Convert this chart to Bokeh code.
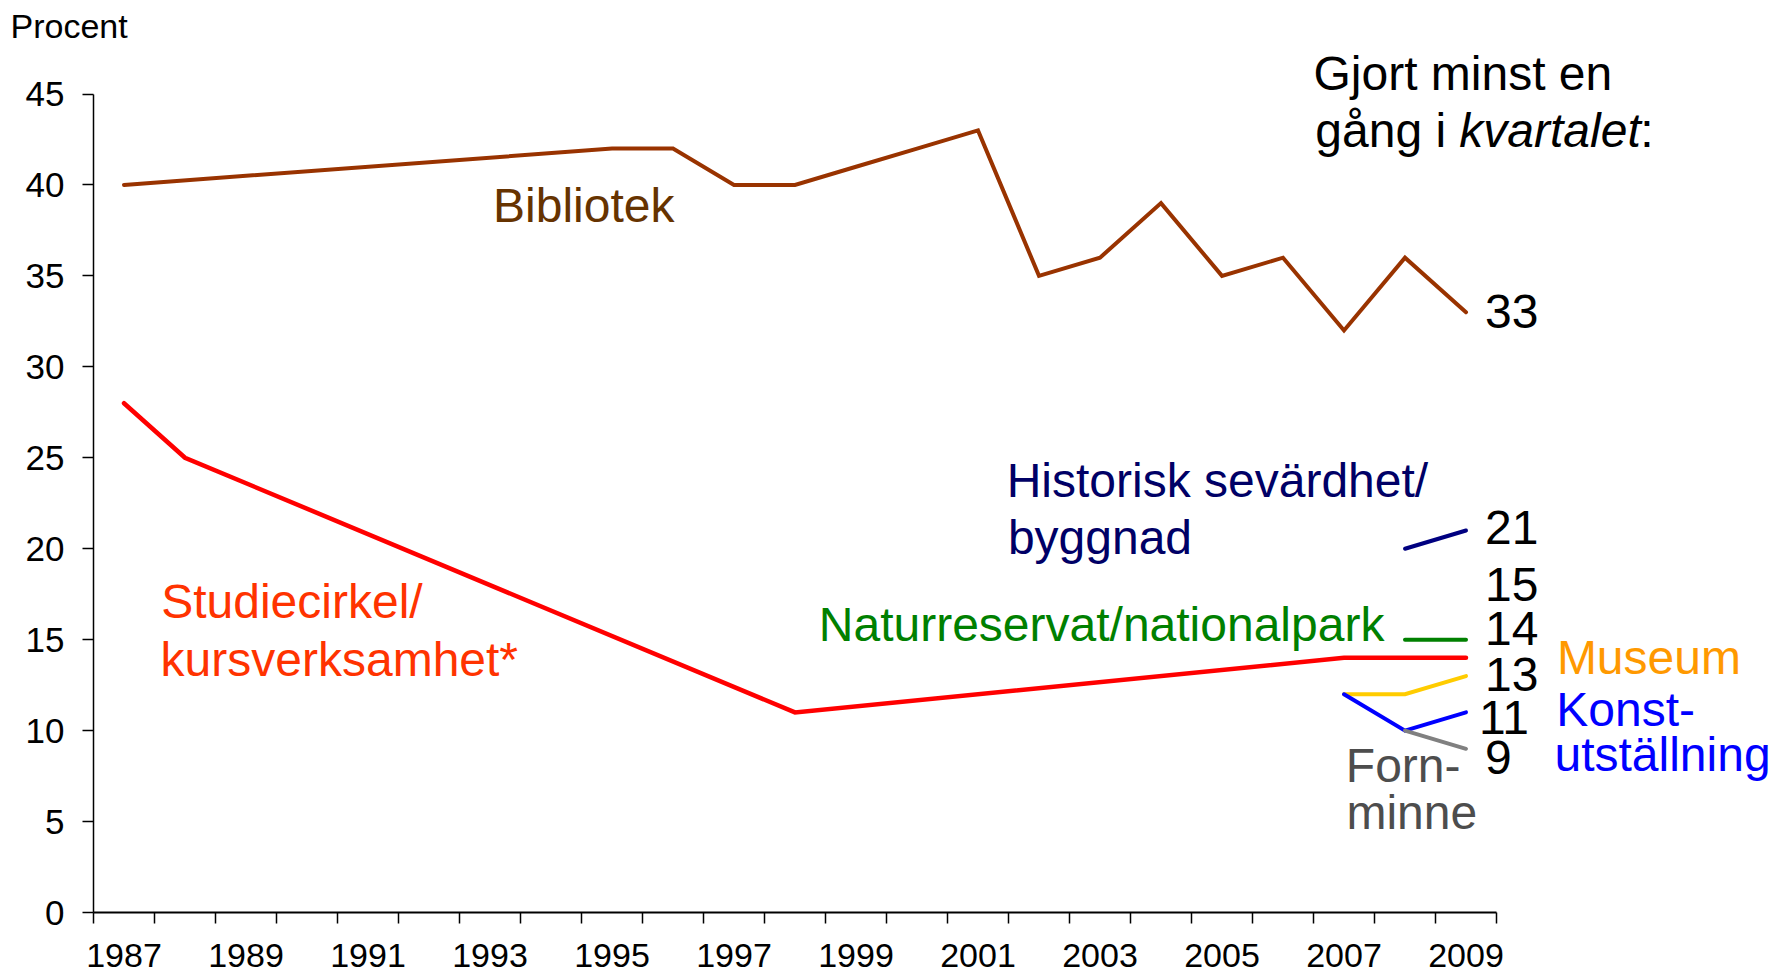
from bokeh.plotting import figure
from bokeh.models import Range1d, FixedTicker, Label
from bokeh.embed import file_html
from bokeh.resources import INLINE

# ---------------- data ----------------
label_years = [1987, 1989, 1991, 1993, 1995, 1997, 1999, 2001, 2003, 2005, 2007, 2009]
y_ticks = [0, 5, 10, 15, 20, 25, 30, 35, 40, 45]

bibliotek_years = [1987, 1995, 1996, 1997, 1998, 1999, 2000, 2001, 2002, 2003, 2004, 2005, 2006, 2007, 2008, 2009]
bibliotek = [40, 42, 42, 40, 40, 41, 42, 43, 35, 36, 39, 35, 36, 32, 36, 33]

studie_years = [1987, 1988, 1998, 2007, 2008, 2009]
studie = [28, 25, 11, 14, 14, 14]

historisk_years = [2008, 2009]
historisk = [20, 21]

natur_years = [2008, 2009]
natur = [15, 15]

museum_years = [2007, 2008, 2009]
museum = [12, 12, 13]

konst_years = [2007, 2008, 2009]
konst = [12, 10, 11]

forn_years = [2008, 2009]
forn = [10, 9]

FONT = "Liberation Sans"

# ---------------- layout ----------------
W, H = 1773, 977
LEFT, TOP, BOTTOM = 93, 48, 65          # borders (px)
PX_PER_YEAR = 61.0
PX_PER_PCT = (912 - 93.5) / 45.0
X0, Y0 = 1986.5, 0.0
x_end = X0 + (W - LEFT) / PX_PER_YEAR
y_end = (H - BOTTOM - TOP) / PX_PER_PCT

p = figure(width=W, height=H, output_backend="svg", toolbar_location=None,
           x_range=Range1d(X0, x_end), y_range=Range1d(Y0, y_end),
           min_border_left=LEFT, min_border_right=0, min_border_top=TOP,
           min_border_bottom=BOTTOM, title="Procent")
p.outline_line_color = None
p.xgrid.visible = False
p.ygrid.visible = False
p.background_fill_color = "white"
p.border_fill_color = "white"

p.title.text_font = FONT
p.title.text_font_size = "34px"
p.title.text_font_style = "normal"
p.title.text_color = "black"
p.title.align = "left"
p.title.offset = -83
p.title.standoff = 7

# x axis: labels at category centres, tick marks at category boundaries
xa = p.xaxis[0]
xa.bounds = (1986.5, 2009.5)
xa.ticker = FixedTicker(ticks=label_years,
                        minor_ticks=[y - 0.5 for y in range(1987, 2011)])
xa.major_tick_out = 0
xa.major_tick_in = 0
xa.minor_tick_out = 11
xa.minor_tick_in = 0
xa.minor_tick_line_color = "black"
xa.minor_tick_line_width = 1.5
xa.axis_line_color = "black"
xa.axis_line_width = 2
xa.major_label_text_font = FONT
xa.major_label_text_font_size = "34px"
xa.major_label_text_color = "black"
xa.major_label_standoff = 20

ya = p.yaxis[0]
ya.bounds = (0, 45)
ya.ticker = FixedTicker(ticks=y_ticks)
ya.major_tick_out = 11
ya.major_tick_in = 0
ya.major_tick_line_color = "black"
ya.major_tick_line_width = 1.5
ya.minor_tick_out = 0
ya.minor_tick_in = 0
ya.axis_line_color = "black"
ya.axis_line_width = 1.5
ya.major_label_text_font = FONT
ya.major_label_text_font_size = "35px"
ya.major_label_text_color = "black"
ya.major_label_standoff = 18

series = [
    (bibliotek_years, bibliotek, "#993300", 4),
    (studie_years, studie, "#FF0000", 4.5),
    (historisk_years, historisk, "#000080", 4),
    (natur_years, natur, "#008000", 4),
    (museum_years, museum, "#FFCC00", 4),
    (konst_years, konst, "#0000FF", 4),
    (forn_years, forn, "#808080", 4),
]
for xs, ys, col, w in series:
    p.line(xs, ys, line_color=col, line_width=w, line_join="miter", line_cap="round")

LIFT = 18  # baseline correction in px


def add_label(text, x, y, color, size="48px", style="normal", x_offset=0, y_offset=0):
    p.add_layout(Label(x=x, y=y, text=text, text_color=color, text_font=FONT,
                       text_font_size=size, text_font_style=style,
                       text_baseline="alphabetic", text_align="left",
                       x_offset=x_offset, y_offset=y_offset + LIFT))


# value labels at the series' last point (pixel offsets only for placement)
value_labels = [
    (bibliotek_years, bibliotek, 19, -17),
    (historisk_years, historisk, 19, -15),
    (natur_years, natur, 19, 37),
    (studie_years, studie, 19, 11),
    (museum_years, museum, 19, -16),
    (konst_years, konst, 13, -23),
    (forn_years, forn, 19, -27),
]
for xs, ys, dx, dy in value_labels:
    add_label(str(ys[-1]), xs[-1], ys[-1], "black", x_offset=dx, y_offset=dy)

# series names
add_label("Bibliotek", 1993.05, 37.86, "#663300")
add_label("Studiecirkel/", 1987.61, 16.09, "#FF3300")
add_label("kursverksamhet*", 1987.60, 12.94, "#FF3300")
add_label("Historisk sevärdhet/", 2001.47, 22.74, "#000066")
add_label("byggnad", 2001.49, 19.63, "#000066")
add_label("Naturreservat/nationalpark", 1998.39, 14.86, "#008000")
add_label("Museum", 2010.49, 13.03, "#FF9900")
add_label("Konst-", 2010.48, 10.19, "#0000FF")
add_label("utställning", 2010.45, 7.71, "#0000FF")
add_label("Forn-", 2007.03, 7.08, "#4D4D4D")
add_label("minne", 2007.04, 4.51, "#4D4D4D")

# heading
add_label("Gjort minst en", 2006.5, 45.16, "black")
add_label("gång i ", 2006.53, 42.0, "black")
add_label("kvartalet", 2006.53, 42.0, "black", style="italic", x_offset=144)
add_label(":", 2006.53, 42.0, "black", x_offset=325)

open("out.html", "w").write(file_html(p, INLINE))
